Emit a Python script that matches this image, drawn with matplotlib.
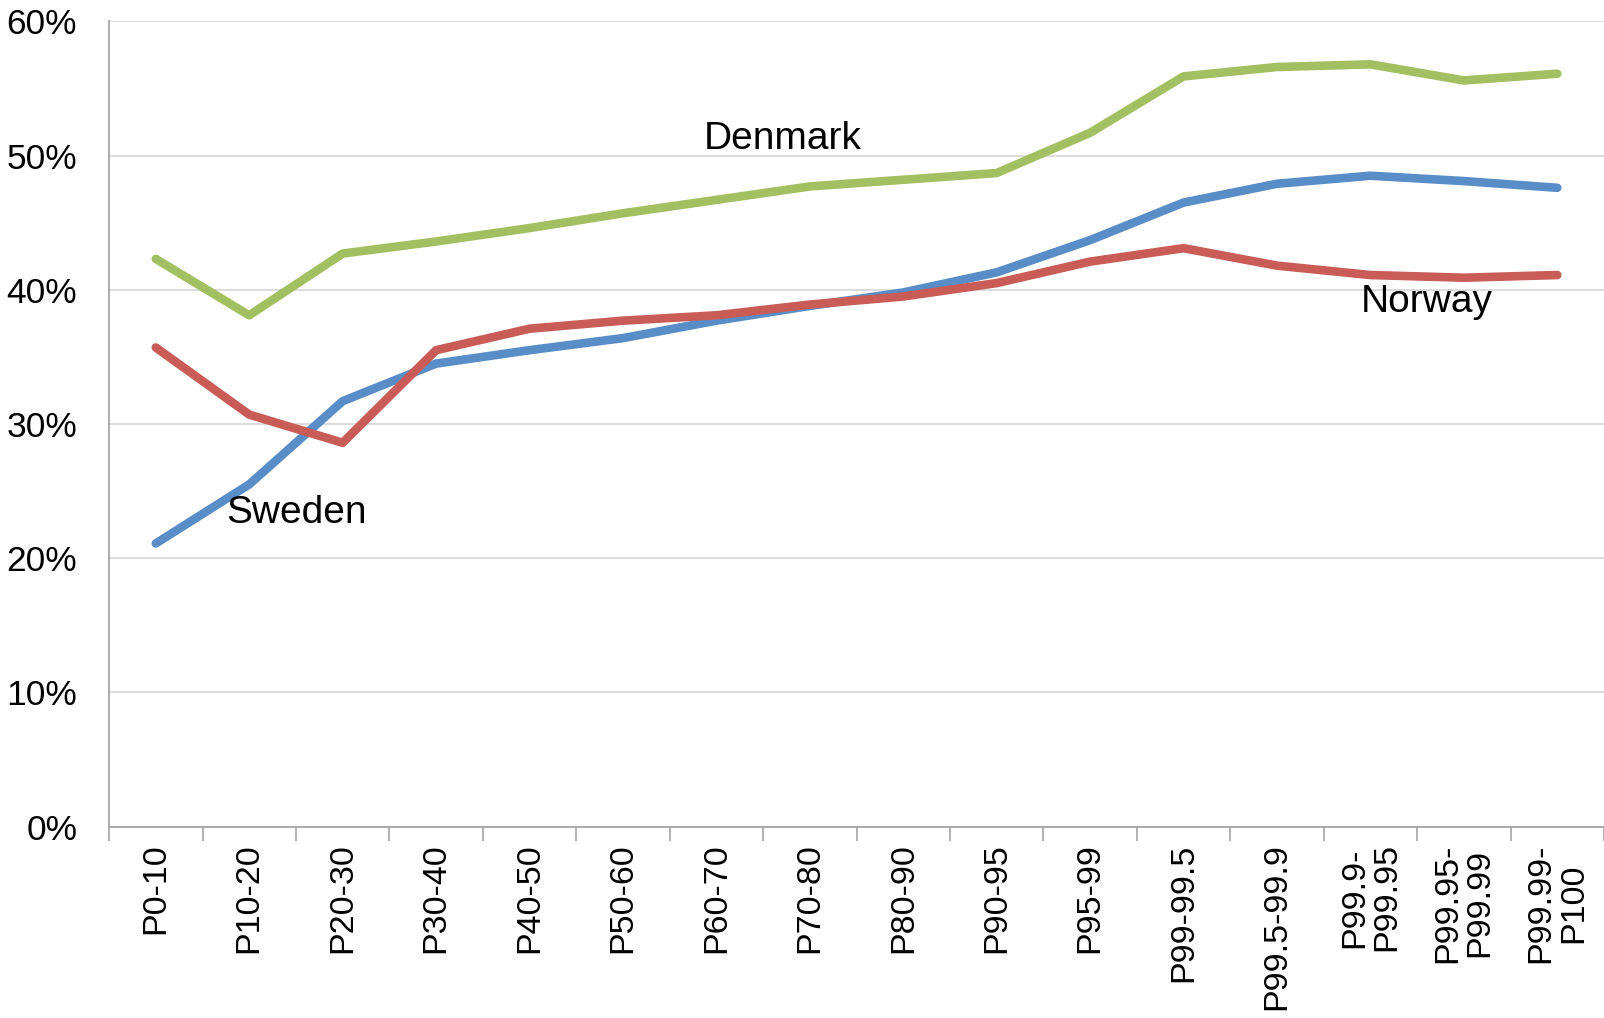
import matplotlib.pyplot as plt
import numpy as np

plt.rcParams['font.family'] = ['Liberation Sans', 'DejaVu Sans']

# percentile groups
groups = ["P0-10", "P10-20", "P20-30", "P30-40", "P40-50", "P50-60", "P60-70",
          "P70-80", "P80-90", "P90-95", "P95-99", "P99-99.5", "P99.5-99.9",
          "P99.9-\nP99.95", "P99.95-\nP99.99", "P99.99-\nP100"]

# shares in percent
denmark = [42.3, 38.1, 42.7, 43.6, 44.6, 45.7, 46.7, 47.7, 48.2, 48.7,
           51.7, 55.9, 56.6, 56.8, 55.6, 56.1]
sweden = [21.1, 25.5, 31.7, 34.5, 35.5, 36.4, 37.7, 38.8, 39.8, 41.3,
          43.7, 46.5, 47.9, 48.5, 48.1, 47.6]
norway = [35.7, 30.7, 28.6, 35.5, 37.1, 37.7, 38.1, 38.9, 39.5, 40.5,
          42.1, 43.1, 41.8, 41.1, 40.9, 41.1]

fig = plt.figure(figsize=(16.04, 10.18), dpi=100)
ax = fig.add_axes([0.068, 0.188, 0.932, 0.791])

x = np.arange(len(groups))
lw = 6.2
ax.plot(x, denmark, color='#A2C062', lw=lw, solid_capstyle='round', zorder=3)
ax.plot(x, sweden, color='#588DC7', lw=lw, solid_capstyle='round', zorder=3)
ax.plot(x, norway, color='#C95C56', lw=lw, solid_capstyle='round', zorder=3)

ax.text(6.71, 51.2, "Denmark", fontsize=28, ha='center', va='center')
ax.text(1.51, 23.4, "Sweden", fontsize=28, ha='center', va='center')
ax.text(13.6, 39.1, "Norway", fontsize=28, ha='center', va='center')

ax.set_xlim(-0.5, len(groups) - 0.5)
ax.set_ylim(0, 60)
ax.set_yticks(range(0, 61, 10))
ax.set_yticklabels([f"{v}%" for v in range(0, 61, 10)], fontsize=25.5)
ax.tick_params(axis='y', length=0, pad=23)

ax.set_xticks(np.arange(-0.5, len(groups), 1), minor=False)
ax.set_xticklabels([])
ax.set_xticks(x, minor=True)
ax.set_xticklabels(groups, minor=True, rotation=90, fontsize=24.5,
                   va='top', ha='center', multialignment='center',
                   linespacing=1.05)
ax.tick_params(axis='x', which='major', length=10, color='#A6A6A6', width=1.2)
ax.tick_params(axis='x', which='minor', length=0, pad=12)

ax.grid(axis='y', color='#D9D9D9', lw=1.3)
ax.set_axisbelow(True)
for s in ['top', 'right']:
    ax.spines[s].set_visible(False)
for s in ['left', 'bottom']:
    ax.spines[s].set_color('#A6A6A6')
    ax.spines[s].set_linewidth(1.3)

fig.savefig("out.png", dpi=100)
